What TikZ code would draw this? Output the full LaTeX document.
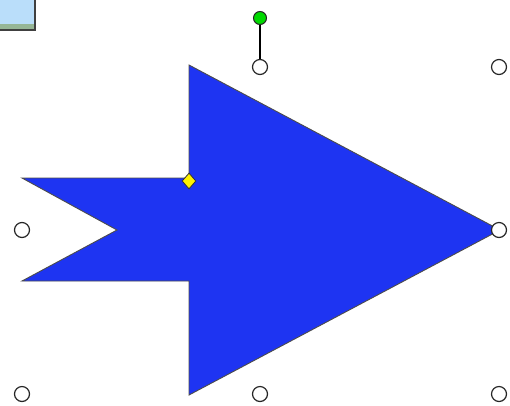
\documentclass[tikz,border=0pt]{standalone}
\usetikzlibrary{shapes.geometric}
\definecolor{shapeblue}{RGB}{30,52,242}
\definecolor{boxblue}{RGB}{186,222,250}
\definecolor{boxgreen}{RGB}{150,182,150}
\begin{document}
\begin{tikzpicture}[x=1pt, y=-1pt, handle/.style={draw=black!85, circle, fill=white, inner sep=0pt, minimum size=15pt, line width=1.2pt}]
	\useasboundingbox (0,0) rectangle (510,405);
	% box at the corner
	\fill[boxblue] (-5,-5) rectangle (35,30);
	\fill[boxgreen] (-5,24) rectangle (35,29);
	\draw[black!75, line width=2pt] (35,-5) -- (35,30) -- (-5,30);
	% notched arrow
	\draw[fill=shapeblue, draw=black!70, line width=0.9pt] (22,178) -- (189,178) -- (189,65) -- (500,230) -- (189,395) -- (189,281) -- (22,281) -- (117,230) -- cycle;
	% sizing handles
	\foreach \name/\x/\y in {l/22/230, bl/22/394, b/260/394, br/499/394, r/499/230, tr/499/67, t/260/67} {
		\node[handle] (h\name) at (\x,\y) {};
	}
	\node[draw=black!85, circle, fill=green!85!black, inner sep=0pt, minimum size=13pt, line width=1pt] (rot) at (260,18) {};
	\draw[line width=1.2pt] (rot) -- (ht);
	\node[draw=black!80, diamond, fill=yellow, inner sep=0pt, minimum width=14pt, minimum height=16pt, line width=0.8pt] (adj) at (189,181) {};
\end{tikzpicture}
\end{document}
